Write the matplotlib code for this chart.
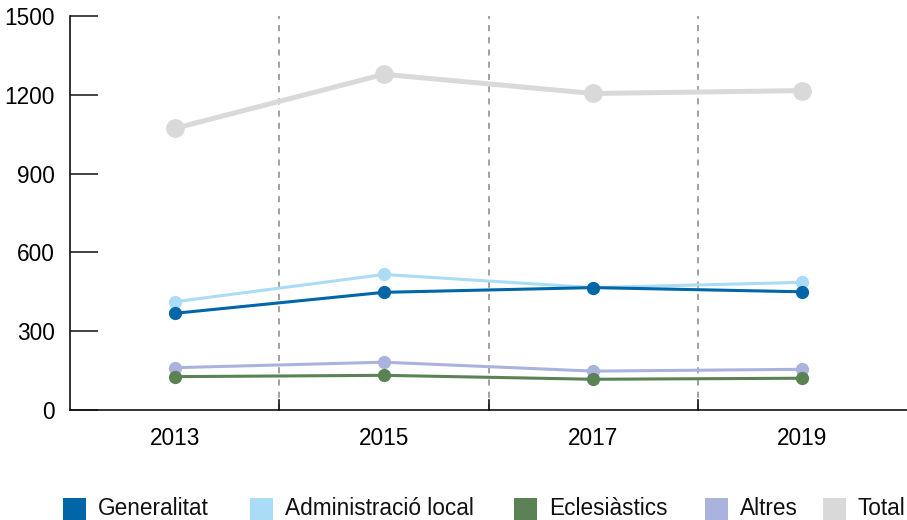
import matplotlib
matplotlib.use("Agg")
import matplotlib.pyplot as plt
from matplotlib.patches import Rectangle

plt.rcParams['font.family'] = ['Liberation Sans', 'DejaVu Sans']

years = ["2013", "2015", "2017", "2019"]
generalitat = [368, 448, 466, 450]
admin_local = [412, 516, 466, 486]
eclesiastics = [127, 132, 117, 121]
altres = [161, 182, 148, 155]
total = [1072, 1278, 1205, 1216]

series_names = ["Generalitat", "Administració local", "Eclesiàstics", "Altres", "Total"]
colors = ["#0066a8", "#aadcf7", "#5a8255", "#aab3dd", "#d9d9d9"]

FS = 16.3
W, H = 907, 520

fig = plt.figure(figsize=(W/100, H/100), dpi=100)
ax = fig.add_axes([70/W, 1 - 410/H, 837/W, 394/H])

x = list(range(len(years)))
ax.plot(x, total, color=colors[4], lw=3.6, marker='o', ms=12.5, zorder=3)
ax.plot(x, admin_local, color=colors[1], lw=2.2, marker='o', ms=8.5, zorder=4)
ax.plot(x, generalitat, color=colors[0], lw=2.2, marker='o', ms=8.5, zorder=5)
ax.plot(x, altres, color=colors[3], lw=2.2, marker='o', ms=8.5, zorder=4)
ax.plot(x, eclesiastics, color=colors[2], lw=2.2, marker='o', ms=8.5, zorder=5)

ax.set_xlim(-0.5, len(years) - 0.5)
ax.set_ylim(0, 1500)
ax.set_yticks([0, 300, 600, 900, 1200, 1500])
ax.tick_params(axis='y', direction='in', length=20, width=1.2, color='#222222',
               labelsize=FS, pad=11)
ax.set_xticks(x)
ax.set_xticklabels(years)
ax.tick_params(axis='x', length=0, labelsize=FS, pad=12)

for b in [0.5, 1.5, 2.5]:
    ax.axvline(b, color='#888888', lw=1.1, ls=(0, (4, 4)), zorder=1)
    ax.plot([b, b], [0, 1500 * 10 / 394], color='#111111', lw=1.2, zorder=2, clip_on=False)

for s in ['top', 'right']:
    ax.spines[s].set_visible(False)
for s in ['left', 'bottom']:
    ax.spines[s].set_linewidth(1.2)
    ax.spines[s].set_color('#111111')

# legend laid out along the bottom edge
legend_x = [63, 250, 514, 705, 823]
for lx, name, c in zip(legend_x, series_names, colors):
    fig.patches.append(Rectangle((lx / W, 0), 23 / W, 22 / H, transform=fig.transFigure,
                                 facecolor=c, edgecolor='none'))
    fig.text((lx + 35) / W, 5 / H, name, fontsize=FS, va='baseline', ha='left',
             color='#111111')

fig.savefig("out.png", dpi=100)
